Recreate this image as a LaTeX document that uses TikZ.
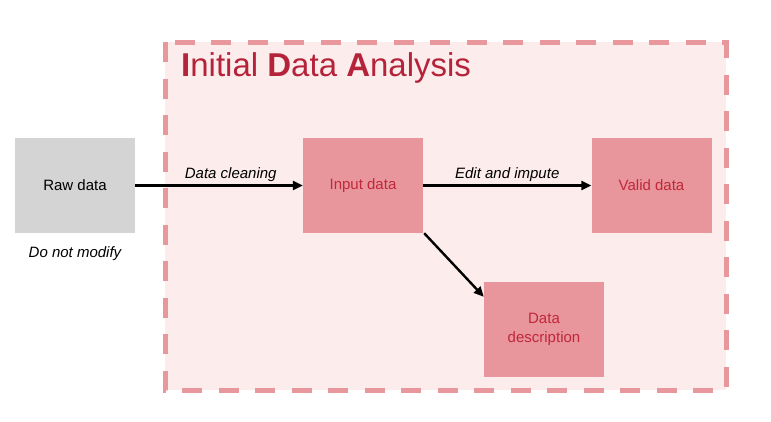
\documentclass[tikz,border=0pt]{standalone}
\usepackage{fontspec}
\setmainfont{Liberation Sans}
\usetikzlibrary{arrows.meta}
\definecolor{idapink}{HTML}{FDECEC}
\definecolor{idadash}{HTML}{E8979D}
\definecolor{idabox}{HTML}{E8959C}
\definecolor{idatext}{HTML}{C0283A}
\definecolor{idatitle}{HTML}{B5233A}
\definecolor{rawgrey}{HTML}{D4D4D4}
\begin{document}
\begin{tikzpicture}[x=1pt, y=-1pt,
    databox/.style={rectangle, minimum width=120pt, minimum height=95pt, inner sep=0pt,
        fill=idabox, text=idatext, align=center, font=\fontsize{15}{18}\selectfont},
    flow/.style={line width=2.4pt, -{Triangle[length=10pt, width=9pt]}},
    flowlabel/.style={font=\fontsize{15}{18}\selectfont\itshape, inner sep=3pt}]
    \useasboundingbox (0,0) rectangle (771,421);

    % analysis area
    \fill[idapink] (165,42) rectangle (726,390);
    \draw[idadash, line width=5pt, dash pattern=on 20pt off 16.5pt] (165,42) rectangle (726,390);
    \node[anchor=west, text=idatitle, font=\fontsize{33}{38}\selectfont, inner sep=0pt] (title) at (181,67.5)
        {\textbf{I}nitial \textbf{D}ata \textbf{A}nalysis};

    \node[databox, fill=rawgrey, text=black] (raw) at (75,185.5) {Raw data};
    \node[databox] (input) at (363,185.5) {Input data};
    \node[databox] (valid) at (651.5,185.5) {Valid data};
    \node[databox] (desc) at (544,329.5) {Data\\[1pt]description};
    \node[flowlabel] (note) at (75,254) {Do not modify};

    \draw[flow] (raw) -- node[flowlabel, above, pos=0.57] {Data cleaning} (input);
    \draw[flow] (input) -- node[flowlabel, above] {Edit and impute} (valid);
    \draw[flow] ([xshift=1pt]input.south east) -- ([yshift=-15pt]desc.north west);

\end{tikzpicture}
\end{document}
